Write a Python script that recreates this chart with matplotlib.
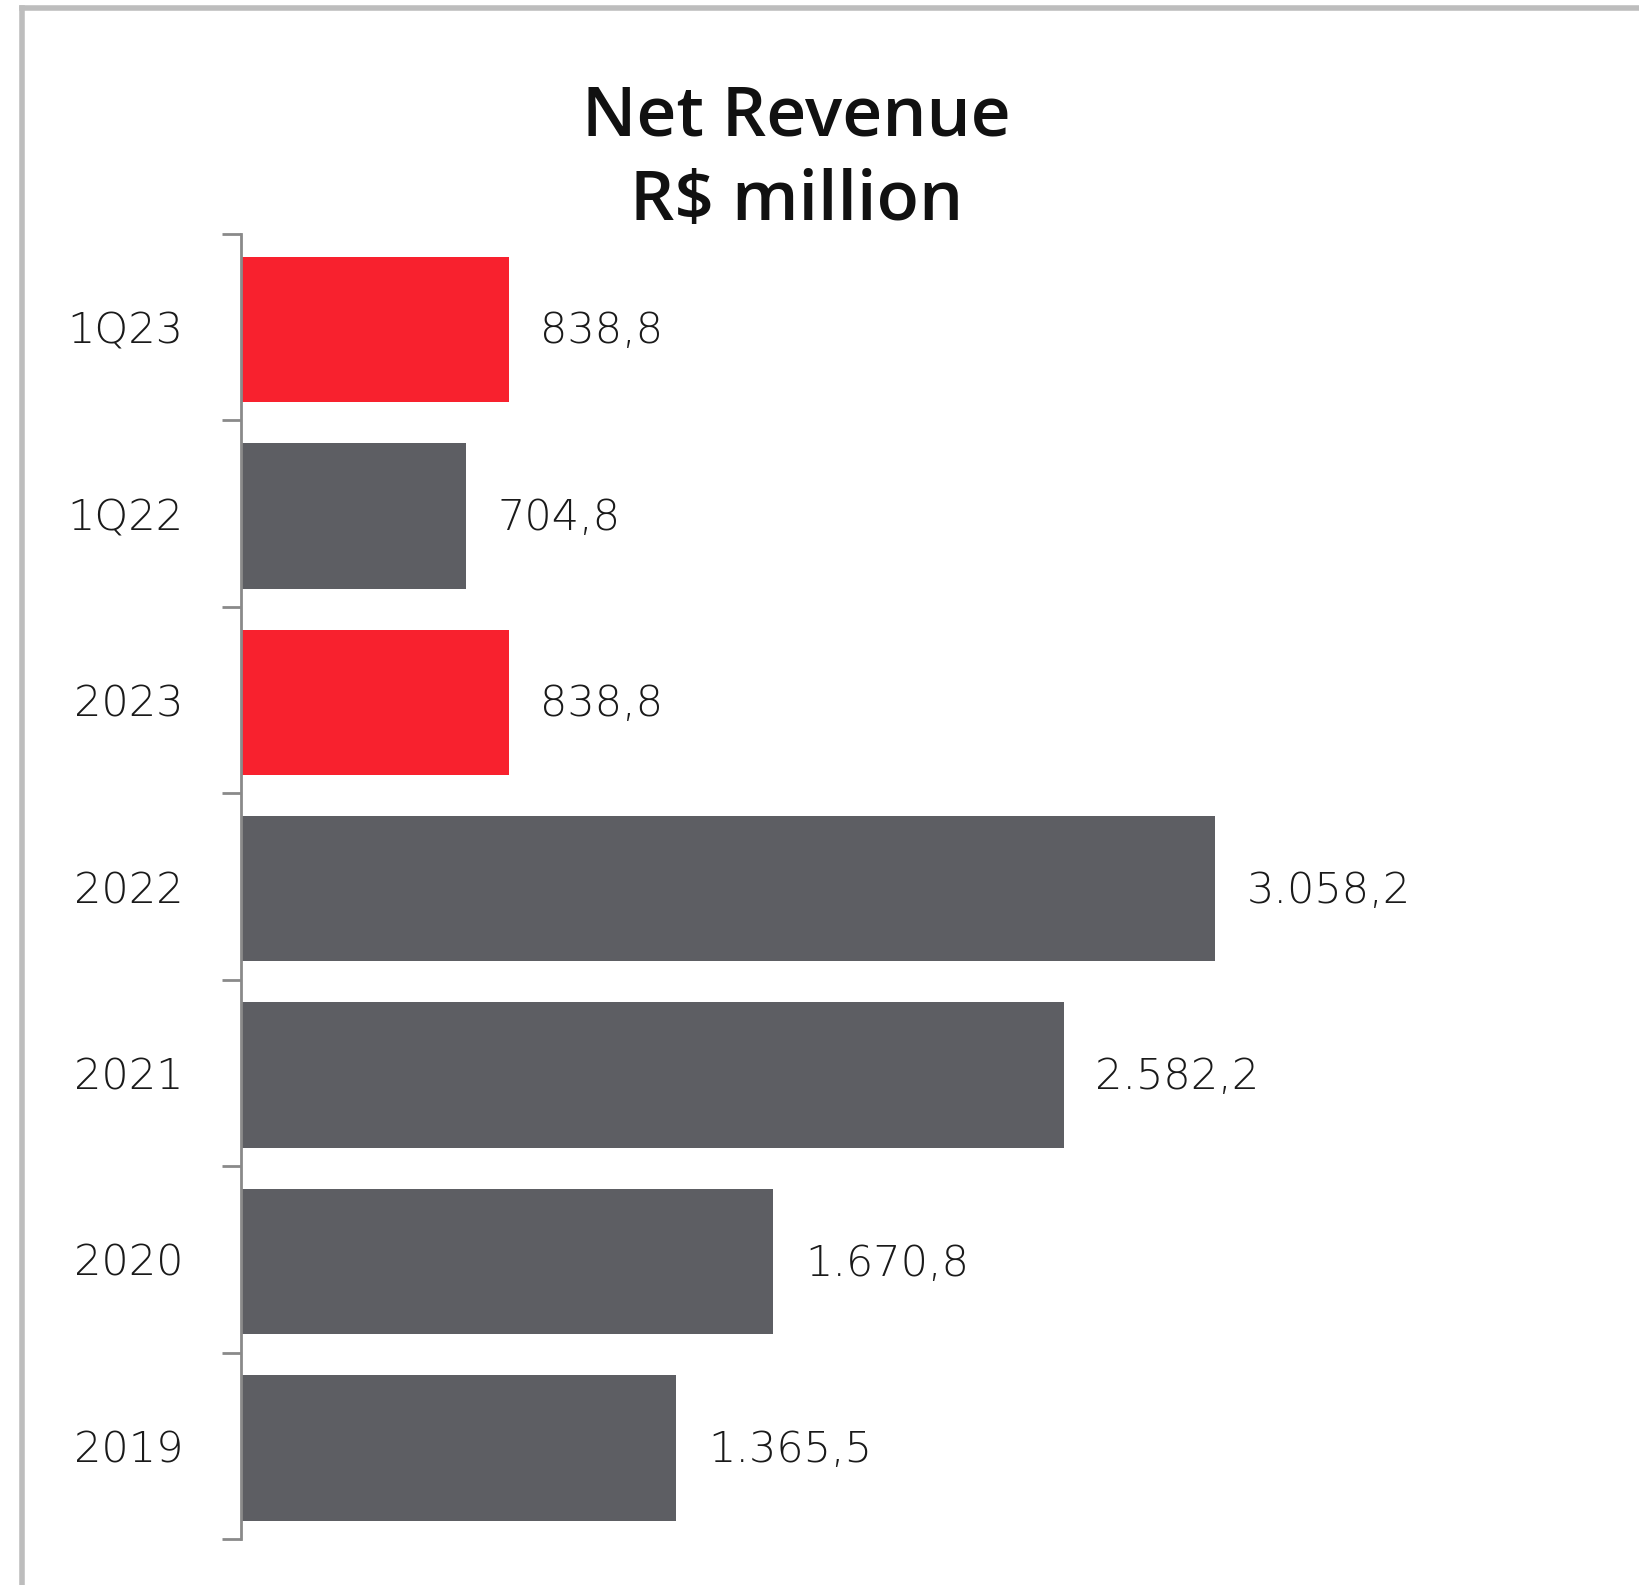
import matplotlib

matplotlib.use("Agg")
import matplotlib.pyplot as plt
from matplotlib.lines import Line2D
import numpy as np

# net revenue, R$ million
periods = ["1Q23", "1Q22", "2023", "2022", "2021", "2020", "2019"]
revenue = [838.8, 704.8, 838.8, 3058.2, 2582.2, 1670.8, 1365.5]
highlight = [True, False, True, False, False, False, False]

C_RED, C_GRAY, C_AXIS, C_TXT = "#F8212E", "#5D5E63", "#8A8A8A", "#1A1A1A"
W, H, DPI = 1639, 1585, 100
LABEL_FONT = dict(family="DejaVu Sans", fontweight="light", fontsize=31)


def br_fmt(v: float) -> str:
    # Brazilian number format: dot for thousands, comma for decimals
    return f"{v:,.1f}".replace(",", "X").replace(".", ",").replace("X", ".")


fig = plt.figure(figsize=(W / DPI, H / DPI), dpi=DPI)
ax = fig.add_axes([241.5 / W, 1 - 1539 / H, 1337 / W, (1539 - 234) / H])

ys = np.arange(len(periods))
cols = [C_RED if h else C_GRAY for h in highlight]
ax.barh(ys + 0.012, revenue, height=0.78, color=cols, edgecolor="none")

ax.set_xlim(0, 4200)
ax.set_ylim(len(periods) - 0.5, -0.5)

for y, v in zip(ys, revenue):
    ax.text(v + 100, y + 0.02, br_fmt(v), ha="left", va="center", color=C_TXT, **LABEL_FONT)

# boundary ticks on the spine, labels centred on each bar
ax.set_yticks(np.arange(-0.5, len(periods), 1.0))
ax.set_yticklabels([])
ax.set_yticks(ys, minor=True)
ax.set_yticklabels(periods, minor=True, color=C_TXT, **LABEL_FONT)
ax.tick_params(axis="y", which="major", length=14, width=2, color=C_AXIS)
ax.tick_params(axis="y", which="minor", length=0, pad=42)
ax.set_xticks([])
for side in ["top", "right", "bottom"]:
    ax.spines[side].set_visible(False)
ax.spines["left"].set_color(C_AXIS)
ax.spines["left"].set_linewidth(2)

fig.text(762 / 1568, 1 - 160 / H, "Net Revenue\nR$ million", ha="center", va="center",
         fontsize=50, fontweight="semibold", family="Open Sans", color="#111111",
         linespacing=1.3)

# light gray frame along the top and left edges
fig.add_artist(Line2D([22 / W, 22 / W], [0, 1 - 8 / H], color="#BDBDBD", lw=4,
                      transform=fig.transFigure))
fig.add_artist(Line2D([22 / W, 1], [1 - 8 / H, 1 - 8 / H], color="#BDBDBD", lw=4,
                      transform=fig.transFigure))

fig.savefig("out.png", dpi=DPI)
plt.close(fig)
